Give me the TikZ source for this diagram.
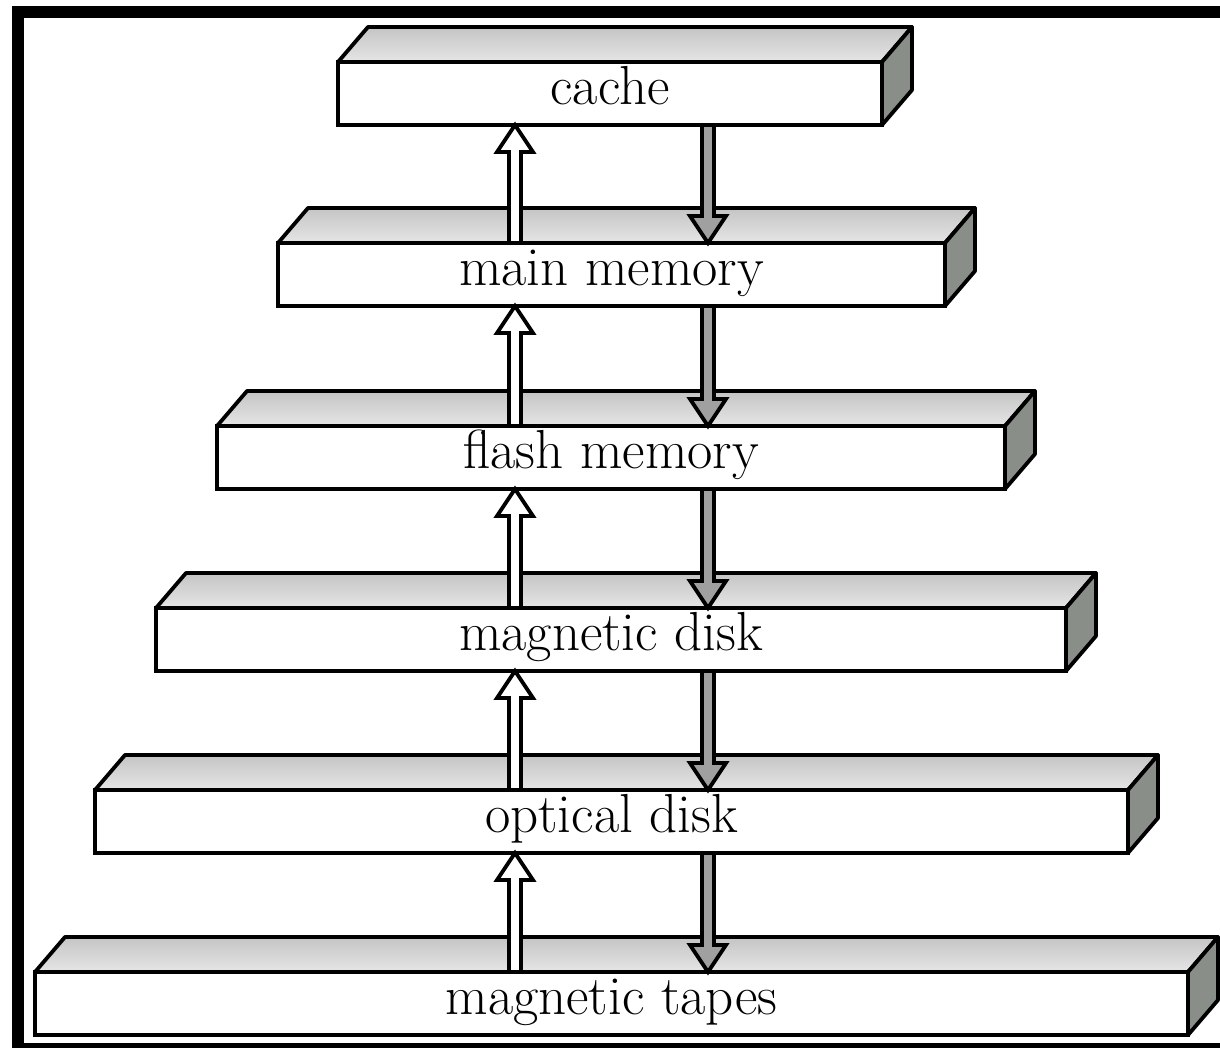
\documentclass[tikz,border=0pt]{standalone}
\usetikzlibrary{calc}
\definecolor{sidegray}{HTML}{898E89}
\definecolor{arrgray}{HTML}{A0A0A0}
\begin{document}
\begin{tikzpicture}[x=1pt,y=-1pt,
  level/.style={draw=black, line width=3.8pt, fill=white, inner sep=0pt, outer sep=0pt,
    minimum height=63pt, text height=35pt, text depth=13pt,
    font=\fontsize{55}{66}\selectfont},
  faceline/.style={draw=black, line width=3.8pt, line join=round},
  topface/.style={faceline, top color=black!23, bottom color=black!10},
  sideface/.style={faceline, fill=sidegray},
  uparr/.style={draw=black, line width=3.8pt, fill=white, line join=miter},
  downarr/.style={draw=black, line width=3.8pt, fill=arrgray, line join=miter}]
\useasboundingbox (0,0) rectangle (1220,1048);
% frame
\fill[black] (12,6) rectangle (1220,18);
\fill[black] (12,6) rectangle (24,1048);
\fill[black] (12,1043) rectangle (1220,1048);
% levels
\foreach \n/\xl/\xr/\yt/\t in {cache/338/882/62/cache,
    mm/278/945/243/main memory,
    flash/217/1005/426/flash memory,
    mdisk/156/1066/608/magnetic disk,
    optical/95/1128/790/optical disk,
    tapes/35/1188/972/magnetic tapes}{
  \node[level, minimum width={(\xr-\xl)*1pt}] (\n) at ({(\xl+\xr)/2},{\yt+31.5}) {\t};
  \path[topface] (\n.north west) -- ++(30,-35) -- ($(\n.north east)+(30,-35)$) -- (\n.north east) -- cycle;
  \path[sideface] (\n.north east) -- ++(30,-35) -- ++(0,63) -- (\n.south east) -- cycle;
}
\coordinate (ux) at (515,0);
\coordinate (dx) at (708,0);
% arrows
\foreach \u/\l in {cache/mm, mm/flash, flash/mdisk, mdisk/optical, optical/tapes}{
  \draw[uparr] ($(\l.north -| ux)+(-6,0)$) -- ($(\u.south -| ux)+(-6,27)$) -- ++(-12,0)
    -- (\u.south -| ux) -- ($(\u.south -| ux)+(18,27)$) -- ++(-12,0)
    -- ($(\l.north -| ux)+(6,0)$) -- cycle;
  \draw[downarr] ($(\u.south -| dx)+(-6,0)$) -- ($(\l.north -| dx)+(-6,-27)$) -- ++(-12,0)
    -- (\l.north -| dx) -- ($(\l.north -| dx)+(18,-27)$) -- ++(-12,0)
    -- ($(\u.south -| dx)+(6,0)$) -- cycle;
}
\end{tikzpicture}
\end{document}
